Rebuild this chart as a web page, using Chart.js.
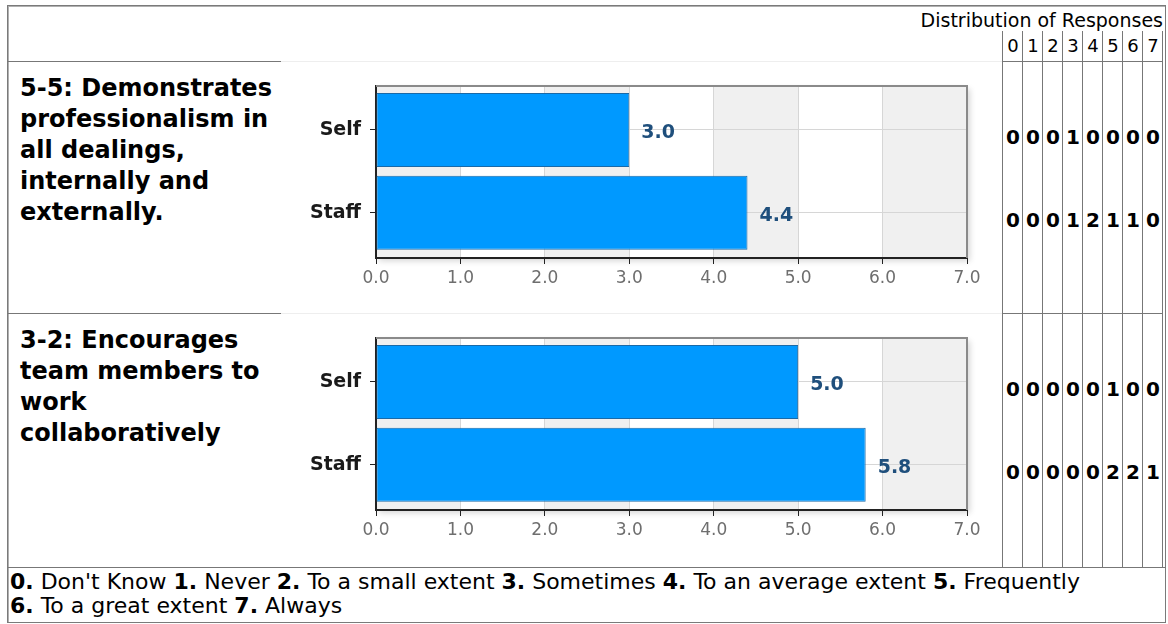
<!DOCTYPE html>
<html>
<head>
<meta charset="utf-8">
<script src="https://cdn.jsdelivr.net/npm/chart.js@4/dist/chart.umd.min.js"></script>
<style>
  html, body { margin: 0; padding: 0; background: #fff; }
  body { width: 1168px; height: 624px; position: relative; overflow: hidden;
         font-family: "DejaVu Sans", Verdana, sans-serif; color: #000; }
  .abs { position: absolute; }
  .frame { left: 7px; top: 5px; width: 1157px; height: 616px; border: 1px solid #7a7a7a; box-shadow: inset 1px 1px 0 #b0b0b0; }
  .hline { height: 1px; background: #777; }
  .hfaint { height: 1px; background: #eeeeee; }
  .vline { width: 1px; background: #777; }
  .title { left: 20px; width: 258px; font-weight: bold; font-size: 24px; line-height: 31px; }
  .hdr { font-size: 19px; line-height: 22px; white-space: nowrap; }
  .cell { width: 20px; text-align: center; line-height: 22px; }
  .digit { font-size: 18px; }
  .cnt { font-weight: bold; font-size: 20px; }
  .foot { left: 10px; font-size: 22px; line-height: 24px; white-space: nowrap; }
  canvas { display: block; }
</style>
</head>
<body>
<div class="abs frame"></div>
<div id="page"></div>
<script>
// Rating scale shown in the response-distribution columns and the footer key
const scaleValues = [0, 1, 2, 3, 4, 5, 6, 7];
const scaleNames = ["Don't Know", "Never", "To a small extent", "Sometimes",
  "To an average extent", "Frequently", "To a great extent", "Always"];

// Rater groups
const raterGroups = ["Self", "Staff"];

// Competency statements
const itemTitles = [
  "5-5: Demonstrates professionalism in all dealings, internally and externally.",
  "3-2: Encourages team members to work collaboratively"
];

// Mean ratings per rater group
const item1Means = [3.0, 4.4];
const item2Means = [5.0, 5.8];

// Response counts per scale value (0..7)
const item1SelfCounts  = [0, 0, 0, 1, 0, 0, 0, 0];
const item1StaffCounts = [0, 0, 0, 1, 2, 1, 1, 0];
const item2SelfCounts  = [0, 0, 0, 0, 0, 1, 0, 0];
const item2StaffCounts = [0, 0, 0, 0, 0, 2, 2, 1];

// Axis tick values
const axisTicks = [0, 1, 2, 3, 4, 5, 6, 7];

const page = document.getElementById('page');
function el(cls, style, html) {
  const d = document.createElement('div');
  d.className = 'abs ' + cls;
  Object.assign(d.style, style);
  if (html !== undefined) d.innerHTML = html;
  page.appendChild(d);
  return d;
}

// ---- table rules ----
const colX = [1002, 1022, 1042, 1062, 1082, 1102, 1122, 1142, 1162];
const rowTops = [61, 313];
rowTops.forEach(y => {
  el('hline', { left: '8px', top: y + 'px', width: '273px' });
  el('hfaint', { left: '281px', top: y + 'px', width: '721px' });
  el('hline', { left: '1002px', top: y + 'px', width: '161px' });
});
el('hline', { left: '8px', top: '567px', width: '1158px' });
colX.forEach(x => el('vline', { left: x + 'px', top: '31px', height: '536px' }));

// ---- header ----
el('hdr', { right: '5px', top: '9px' }, 'Distribution of Responses');
scaleValues.forEach((v, i) => el('cell digit', { left: (colX[i] + 1) + 'px', top: '35px' }, String(v)));

// ---- rows ----
const rows = [
  { title: itemTitles[0], means: item1Means, counts: [item1SelfCounts, item1StaffCounts], top: 61 },
  { title: itemTitles[1], means: item2Means, counts: [item2SelfCounts, item2StaffCounts], top: 313 }
];

rows.forEach((row) => {
  el('title', { top: (row.top + 12) + 'px' }, row.title);
  row.counts.forEach((arr, g) => {
    arr.forEach((c, i) => el('cell cnt', { left: (colX[i] + 1) + 'px', top: (row.top + 65 + g * 83) + 'px' }, String(c)));
  });
  const wrap = el('', { left: '281px', top: (row.top + 1) + 'px', width: '721px', height: '252px' });
  const cv = document.createElement('canvas');
  cv.width = 721; cv.height = 252;
  cv.style.width = '721px'; cv.style.height = '252px';
  wrap.appendChild(cv);
  makeChart(cv, row.means);
});

// ---- footer key ----
const keyHtml = scaleValues.map(v => '<b>' + v + '.</b> ' + scaleNames[v]);
el('foot', { top: '570px' }, keyHtml.slice(0, 6).join(' '));
el('foot', { top: '594px' }, keyHtml.slice(6).join(' '));

// ---- chart ----
function makeChart(canvas, values) {
  const plotBackdrop = {
    id: 'plotBackdrop',
    beforeDraw(chart) {
      const { ctx, chartArea: a, scales: { x } } = chart;
      ctx.save();
      // soft drop shadow behind the plot
      ctx.shadowColor = 'rgba(0,0,0,0.16)';
      ctx.shadowBlur = 6;
      ctx.shadowOffsetX = 3;
      ctx.shadowOffsetY = 3;
      ctx.fillStyle = '#fff';
      ctx.fillRect(a.left, a.top, a.right - a.left, a.bottom - a.top);
      ctx.restore();
      // alternating vertical bands, one per unit
      ctx.save();
      ctx.fillStyle = '#f0f0f0';
      for (let i = 0; i < axisTicks.length - 1; i += 2) {
        const x0 = x.getPixelForValue(axisTicks[i]);
        const x1 = x.getPixelForValue(axisTicks[i + 1]);
        ctx.fillRect(x0, a.top, x1 - x0, a.bottom - a.top);
      }
      ctx.restore();
    },
    afterDraw(chart) {
      const { ctx, chartArea: a } = chart;
      ctx.save();
      ctx.strokeStyle = '#8a8a8a';
      ctx.lineWidth = 2;
      ctx.beginPath();
      ctx.moveTo(a.left, a.top);
      ctx.lineTo(a.right, a.top);
      ctx.lineTo(a.right, a.bottom);
      ctx.stroke();
      ctx.restore();
    }
  };
  const valueLabels = {
    id: 'valueLabels',
    afterDatasetsDraw(chart) {
      const { ctx } = chart;
      const meta = chart.getDatasetMeta(0);
      ctx.save();
      ctx.font = 'bold 19px "DejaVu Sans", Verdana, sans-serif';
      ctx.fillStyle = '#1f4f7c';
      ctx.textBaseline = 'middle';
      meta.data.forEach((bar, i) => {
        ctx.fillText(values[i].toFixed(1), bar.x + 12, bar.y + 3);
      });
      ctx.restore();
    }
  };
  new Chart(canvas, {
    type: 'bar',
    data: {
      datasets: [{
        data: values.map((v, i) => ({ x: v, y: i })),
        backgroundColor: '#0099ff',
        borderColor: '#1a6aa8',
        borderWidth: 1,
        borderSkipped: false,
        barPercentage: 0.895,
        categoryPercentage: 1
      }]
    },
    options: {
      indexAxis: 'y',
      responsive: false,
      animation: false,
      devicePixelRatio: 1,
      layout: { padding: { left: 0, top: 24, right: 35, bottom: 0 } },
      plugins: { legend: { display: false }, tooltip: { enabled: false } },
      scales: {
        x: {
          type: 'linear',
          min: 0, max: 7,
          afterBuildTicks(scale) { scale.ticks = axisTicks.map(v => ({ value: v })); },
          afterFit(scale) { scale.height = 56; },
          grid: { color: '#d6d6d6', lineWidth: 1, tickLength: 6, tickColor: '#222', drawTicks: true },
          border: { color: '#222', width: 2 },
          ticks: {
            padding: 4,
            color: '#6e6e6e',
            font: { family: '"DejaVu Sans", Verdana, sans-serif', size: 17 },
            callback: v => Number(v).toFixed(1)
          }
        },
        y: {
          type: 'linear',
          offset: false,
          reverse: true,
          min: -0.532, max: 1.548,
          afterBuildTicks(scale) { scale.ticks = raterGroups.map((g, i) => ({ value: i })); },
          afterFit(scale) { scale.width = 95; },
          grid: { offset: false, color: '#d6d6d6', lineWidth: 1, tickLength: 6, tickColor: '#222' },
          border: { color: '#222', width: 2 },
          ticks: {
            padding: 9,
            color: '#1a1a1a',
            font: { family: '"DejaVu Sans", Verdana, sans-serif', size: 19, weight: 'bold' },
            callback: v => raterGroups[v]
          }
        }
      }
    },
    plugins: [plotBackdrop, valueLabels]
  });
}
</script>
</body>
</html>
